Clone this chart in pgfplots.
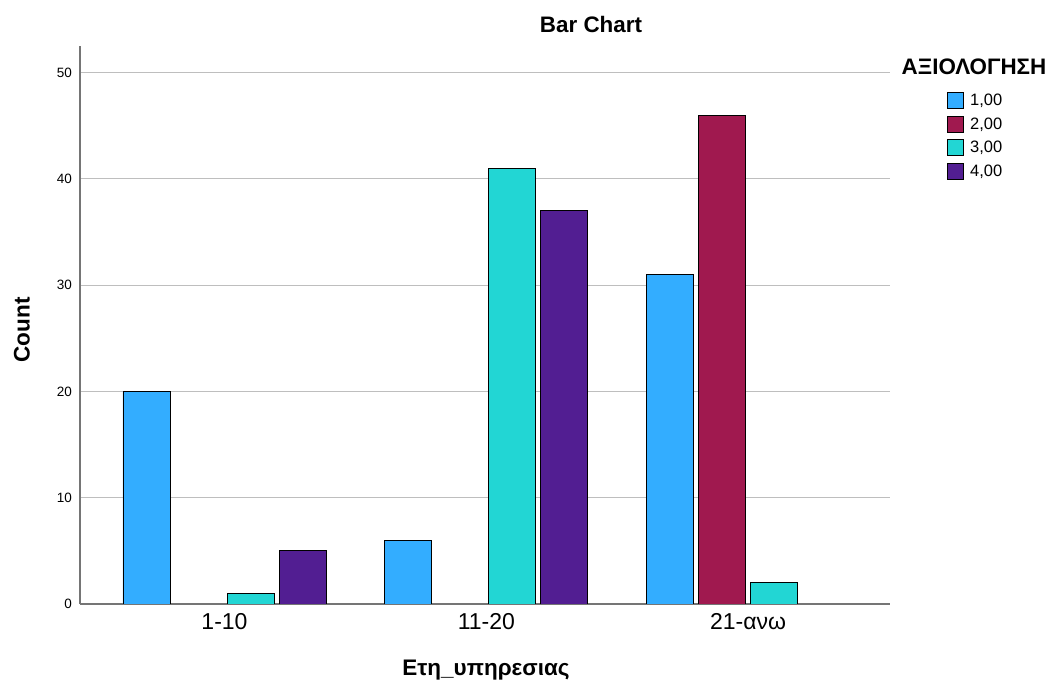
\documentclass[border=0pt]{standalone}
\usepackage{fontspec}
\setmainfont{Liberation Sans}
\usepackage{pgfplots}
\pgfplotsset{compat=1.18}
\definecolor{c1}{HTML}{33ADFF}
\definecolor{c2}{HTML}{A0194F}
\definecolor{c3}{HTML}{22D6D4}
\definecolor{c4}{HTML}{521E92}
\definecolor{axgray}{HTML}{757575}
\definecolor{gridgray}{HTML}{BEBEBE}
\pgfplotsset{mylegend/.style={legend image code/.code={\draw[##1,draw=black,line width=0.9bp] (0bp,-8bp) rectangle (16bp,8bp); \path (19bp,0bp);}}}
\begin{document}
\begin{tikzpicture}[x=1bp,y=1bp]
\path[use as bounding box] (0,0) rectangle (1050,682);
\begin{axis}[
 at={(80bp,78bp)}, anchor=south west,
 scale only axis, width=810bp, height=558bp,
 xmin=-0.552, xmax=2.542, ymin=0, ymax=52.5,
 xtick={0,1,2}, xticklabels={1-10,11-20,21-ανω},
 ytick={0,10,20,30,40,50},
 axis x line*=bottom, axis y line*=left,
 axis line style={axgray, line width=1.5bp},
 major tick length=0pt,
 ymajorgrids, grid style={gridgray, line width=1bp},
 /pgf/number format/assume math mode=true,
 yticklabel style={font=\fontsize{13.5bp}{16bp}\selectfont, inner sep=0pt, anchor=east, xshift=-8bp},
 xticklabel style={font=\fontsize{23bp}{27bp}\selectfont, inner sep=0pt, anchor=north, yshift=-9bp},
 legend style={at={(axis description cs:1,1)}, anchor=north west, draw=none, fill=none,
   xshift=56.5bp, yshift=-44.5bp, inner sep=0pt, row sep=3.5bp,
   font=\fontsize{16.5bp}{19bp}\selectfont, nodes={inner sep=3.5bp}},
 legend cell align=left,
]
\addplot[ybar, bar width=0.1796, bar shift=-0.298, fill=c1, draw=black, line width=0.9bp, mylegend] coordinates {(0,20) (1,6) (2,31)};
\addlegendentry{1,00}
\addplot[ybar, bar width=0.1796, bar shift=-0.0993, fill=c2, draw=black, line width=0.9bp, mylegend] coordinates {(2,46)};
\addlegendentry{2,00}
\addplot[ybar, bar width=0.1796, bar shift=0.0993, fill=c3, draw=black, line width=0.9bp, mylegend] coordinates {(0,1) (1,41) (2,2)};
\addlegendentry{3,00}
\addplot[ybar, bar width=0.1796, bar shift=0.298, fill=c4, draw=black, line width=0.9bp, mylegend] coordinates {(0,5) (1,37)};
\addlegendentry{4,00}
\end{axis}
\node[font=\bfseries\fontsize{22.4bp}{26bp}\selectfont, anchor=center] at (591,657) {Bar Chart};
\node[font=\bfseries\fontsize{22.4bp}{26bp}\selectfont, anchor=center] at (974,615) {ΑΞΙΟΛΟΓΗΣΗ};
\node[font=\bfseries\fontsize{22.5bp}{26bp}\selectfont, anchor=base] at (486,6) {Ετη\_υπηρεσιας};
\node[font=\bfseries\fontsize{22.5bp}{26bp}\selectfont, anchor=center, rotate=90] at (22,352) {Count};
\end{tikzpicture}
\end{document}
